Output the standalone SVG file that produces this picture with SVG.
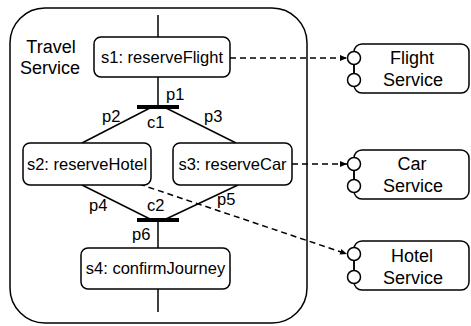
<svg xmlns="http://www.w3.org/2000/svg" width="471" height="326" viewBox="0 0 471 326">
<style>
text{font-family:"Liberation Sans",Arial,sans-serif;fill:#000}
.n{font-size:16.5px;text-anchor:middle}
.l{font-size:18px;text-anchor:middle}
.p{font-size:16.5px}
.box{fill:#fff;stroke:#000;stroke-width:1.5}
.ln{stroke:#000;stroke-width:1.5;fill:none}
.bar{stroke:#000;stroke-width:4}
.dash{stroke:#000;stroke-width:1.5;fill:none;stroke-dasharray:6,4}
.port{fill:#fff;stroke:#000;stroke-width:1.5}
</style>
<defs>
<marker id="ah" markerWidth="8" markerHeight="8" refX="7" refY="4" orient="auto" markerUnits="userSpaceOnUse">
<path d="M0,1 L7,4 L0,7 z" fill="#000"/>
</marker>
</defs>
<g id="travelService">
<rect class="box" x="10" y="8" width="297" height="315" rx="35"/>
<text class="l" x="51" y="53">Travel</text>
<text class="l" x="50" y="74">Service</text>
</g>
<g id="connectors">
<line class="ln" x1="158" y1="15" x2="158" y2="37"/>
<line class="ln" x1="158" y1="77" x2="158" y2="107"/>
<line class="bar" x1="137" y1="107" x2="179" y2="107"/>
<line class="ln" x1="150" y1="108" x2="82" y2="143"/>
<line class="ln" x1="166" y1="108" x2="236" y2="143"/>
<line class="ln" x1="82" y1="185" x2="150" y2="219"/>
<line class="ln" x1="238" y1="185" x2="166" y2="219"/>
<line class="bar" x1="137" y1="220" x2="179" y2="220"/>
<line class="ln" x1="158" y1="220" x2="158" y2="248"/>
<line class="ln" x1="158" y1="289" x2="158" y2="312"/>
<line class="dash" x1="230" y1="58" x2="347" y2="58" marker-end="url(#ah)"/>
<line class="dash" x1="292" y1="164" x2="347" y2="164" marker-end="url(#ah)"/>
<line class="dash" x1="139" y1="184" x2="347" y2="254" marker-end="url(#ah)"/>
<text class="p" x="166" y="100">p1</text>
<text class="p" x="102" y="122">p2</text>
<text class="p" x="147" y="128">c1</text>
<text class="p" x="204" y="122">p3</text>
<text class="p" x="89" y="211">p4</text>
<text class="p" x="147" y="211">c2</text>
<text class="p" x="217" y="205">p5</text>
<text class="p" x="132" y="240">p6</text>
</g>
<g id="s1">
<rect class="box" x="94" y="37" width="136" height="40" rx="7"/>
<text class="n" x="162" y="63">s1: reserveFlight</text>
</g>
<g id="s2">
<rect class="box" x="23" y="143" width="128" height="42" rx="7"/>
<text class="n" x="87" y="170">s2: reserveHotel</text>
</g>
<g id="s3">
<rect class="box" x="173" y="143" width="119" height="42" rx="7"/>
<text class="n" x="232.5" y="170">s3: reserveCar</text>
</g>
<g id="s4">
<rect class="box" x="81" y="248" width="149" height="41" rx="7"/>
<text class="n" x="155.5" y="274">s4: confirmJourney</text>
</g>
<g id="flightService">
<rect class="box" x="354" y="44" width="115" height="49" rx="8"/>
<line class="ln" x1="354" y1="58" x2="354" y2="80"/>
<circle class="port" cx="354" cy="58" r="6.5"/>
<circle class="port" cx="354" cy="80" r="6.5"/>
<text class="l" x="412" y="64">Flight</text>
<text class="l" x="413" y="86">Service</text>
</g>
<g id="carService">
<rect class="box" x="354" y="150" width="115" height="49" rx="8"/>
<line class="ln" x1="354" y1="164" x2="354" y2="186"/>
<circle class="port" cx="354" cy="164" r="6.5"/>
<circle class="port" cx="354" cy="186" r="6.5"/>
<text class="l" x="412" y="170">Car</text>
<text class="l" x="413" y="192">Service</text>
</g>
<g id="hotelService">
<rect class="box" x="354" y="241" width="115" height="49" rx="8"/>
<line class="ln" x1="354" y1="254" x2="354" y2="277"/>
<circle class="port" cx="354" cy="254" r="6.5"/>
<circle class="port" cx="354" cy="277" r="6.5"/>
<text class="l" x="412" y="262">Hotel</text>
<text class="l" x="413" y="284">Service</text>
</g>
</svg>
